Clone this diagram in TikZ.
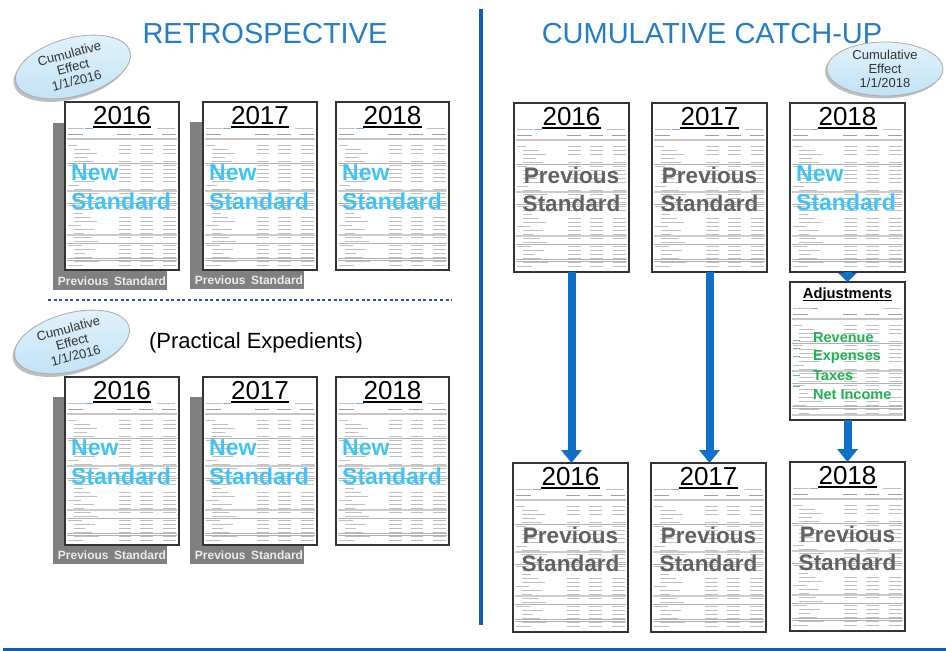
\documentclass[tikz,border=0pt]{standalone}
\usepackage{fontspec}
\setmainfont{Liberation Sans}
\usetikzlibrary{arrows.meta,shapes.geometric}

\definecolor{titleblue}{RGB}{35,125,200}
\definecolor{rulerblue}{RGB}{22,92,172}
\definecolor{arrowblue}{RGB}{15,112,200}
\definecolor{newblue}{RGB}{64,196,245}
\definecolor{prevgray}{RGB}{98,98,98}
\definecolor{adjgreen}{RGB}{30,178,80}
\definecolor{stripgray}{RGB}{128,128,128}
\definecolor{striptext}{RGB}{236,236,236}
\definecolor{effecttop}{RGB}{226,243,252}
\definecolor{effectbottom}{RGB}{192,226,246}

\tikzset{
  x=1pt, y=-1pt,
  sheet/.style={draw=black!80, line width=1.2pt, fill=white, anchor=north west,
    inner sep=0pt, outer sep=0pt},
  strip/.style={fill=stripgray, anchor=north west, inner sep=0pt, outer sep=0pt,
    minimum width=114, minimum height=167},
  striptxt/.style={text=striptext, inner sep=0pt, font=\fontsize{12}{13}\selectfont\bfseries},
  tinyrule/.style={draw=gray!50, line width=0.6pt},
  headrule/.style={draw=gray!75, line width=0.8pt},
  seprule/.style={draw=gray!60, line width=0.6pt},
  yearlbl/.style={anchor=base, inner sep=0pt, font=\fontsize{26}{28}\selectfont},
  yearrule/.style={draw=black, line width=2.6pt},
  newtxt/.style={anchor=west, inner sep=0pt, text=newblue, font=\fontsize{23}{25}\selectfont\bfseries},
  prevtxt/.style={inner sep=0pt, text=prevgray, font=\fontsize{22.5}{25}\selectfont\bfseries},
  greentxt/.style={anchor=west, inner sep=0pt, text=adjgreen, font=\fontsize{14.5}{16}\selectfont\bfseries},
  effect/.style={ellipse, top color=effecttop, bottom color=effectbottom, draw=gray!65, line width=0.8pt,
    minimum width=118, minimum height=58, inner sep=0pt, align=center,
    text=black!80, font=\fontsize{13}{14}\selectfont},
  effectshadow/.style={ellipse, fill=gray!50, minimum width=118, minimum height=58, inner sep=0pt},
  titletxt/.style={anchor=base, inner sep=0pt, text=titleblue, font=\fontsize{29}{31}\selectfont},
  bigarrow/.style={draw=arrowblue, line width=8pt, -{Triangle[width=20pt,length=13pt]}},
  shortarrow/.style={draw=arrowblue, line width=8pt, -{Triangle[width=18pt,length=9pt]}},
}

% faint rules standing for the rows of a financial statement
\newcommand{\sheetbody}[4]{% x, y, width, height
  \begin{scope}[shift={(#1,#2)}]
    \draw[tinyrule] (3,26) -- (19,26);
    \draw[tinyrule, draw=titleblue!60] (20,26) -- (28,26);
    \draw[tinyrule] ({#3-22},26) -- ({#3-4},26);
    \draw[headrule] (3,32) -- (18,32);
    \foreach \c in {0.46,0.65,0.85} \draw[headrule] ({\c*#3},32) -- ({(\c+0.12)*#3},32);
    \fill[gray!45] (2,36.3) rectangle ({#3-2},38.3);
    \pgfmathtruncatemacro{\nrows}{(#4-47)/4}
    \foreach \k in {0,...,\nrows}{
      \pgfmathsetmacro{\yy}{43+4*\k}
      \pgfmathsetmacro{\labx}{ifthenelse(mod(\k,5)==0,3,9)}
      \pgfmathsetmacro{\lablen}{9+mod(\k*7,17)}
      \draw[tinyrule] (\labx,\yy) -- ({\labx+\lablen},\yy);
      \pgfmathtruncatemacro{\gapflag}{mod(\k,7)==3}
      \ifnum\gapflag=0
        \foreach \c in {0.47,0.66,0.86} \draw[tinyrule] ({\c*#3},\yy) -- ({(\c+0.11)*#3},\yy);
      \fi
      \pgfmathtruncatemacro{\sepflag}{mod(\k,10)==4}
      \ifnum\sepflag=1 \draw[seprule] (2,\yy+2) -- ({#3-2},\yy+2); \fi
      \ifnum\k=11 \fill[gray!40] (2,\yy+1.2) rectangle ({#3-2},\yy+2.8); \fi
      \ifnum\k=22 \fill[gray!40] (2,\yy+1.2) rectangle ({#3-2},\yy+2.8); \fi
      \pgfmathtruncatemacro{\lastflag}{\k==\nrows-2}
      \ifnum\lastflag=1
        \draw[seprule] (2,\yy+1.5) -- ({#3-2},\yy+1.5);
        \draw[seprule] (2,\yy+3.5) -- ({#3-2},\yy+3.5);
      \fi
    }
  \end{scope}}

% one statement page with its year heading
\newcommand{\sheetpage}[6]{% name, x, y, width, height, year
  \node[sheet, minimum width=#4, minimum height=#5] (#1) at (#2,#3) {};
  \sheetbody{#2}{#3}{#4}{#5}
  \node[yearlbl] (#1-year) at ({#2+#4/2},{#3+22}) {#6};
  \draw[yearrule] ([yshift=-3pt]#1-year.base west) -- ([yshift=-3pt]#1-year.base east);}

\newcommand{\newstd}[3]{% name, x, y of the page
  \node[newtxt] (#1-new) at ({#2+6},{#3+71}) {New};
  \node[newtxt] (#1-std) at ({#2+6},{#3+99.5}) {Standard};}

\newcommand{\prevstd}[4]{% name, x, y, width of the page
  \node[prevtxt] (#1-prev) at ({#2+#4/2},{#3+72}) {Previous};
  \node[prevtxt] (#1-std) at ({#2+#4/2},{#3+100}) {Standard};}

\newcommand{\backstrip}[3]{% name, x, y
  \node[strip] (#1) at (#2,#3) {};
  \node[striptxt] (#1-txt) at ({#2+59},{#3+158}) {Previous\hspace{0.45em}Standard};}

\begin{document}
\begin{tikzpicture}
\useasboundingbox (0,0) rectangle (946,651);

% section titles
\node[titletxt] (ttl-retro) at (265,43.5) {RETROSPECTIVE};
\node[titletxt] (ttl-catch) at (712,43.5) {CUMULATIVE CATCH-UP};

% dividers
\coordinate (div-top) at (481,9);
\coordinate (div-bot) at (481,625);
\draw[rulerblue, line width=4pt] (div-top) -- (div-bot);
\coordinate (base-l) at (3,649.5);
\coordinate (base-r) at (946,649.5);
\draw[rulerblue, line width=2.5pt] (base-l) -- (base-r);
\coordinate (dot-l) at (48,300);
\coordinate (dot-r) at (452,300);
\draw[rulerblue, line width=2.6pt, dash pattern=on 3pt off 2.6pt] (dot-l) -- (dot-r);

% ---- retrospective, full ----
\node[effectshadow, rotate=15] (eff-a-sh) at (71,70) {};
\node[effect, rotate=15] (eff-a) at (73,67) {Cumulative\\Effect\\1/1/2016};

\backstrip{strip-a16}{53}{123}
\sheetpage{ra16}{65}{102}{114}{168}{2016}
\newstd{ra16}{65}{102}
\backstrip{strip-a17}{190}{122}
\sheetpage{ra17}{203}{102}{114}{168}{2017}
\newstd{ra17}{203}{102}
\sheetpage{ra18}{336}{102}{113}{168}{2018}
\newstd{ra18}{336}{102}

% ---- retrospective, practical expedients ----
\node[effectshadow, rotate=15] (eff-b-sh) at (70,345) {};
\node[effect, rotate=15] (eff-b) at (72,342) {Cumulative\\Effect\\1/1/2016};
\node[inner sep=0pt, font=\fontsize{22}{24}\selectfont] (practical) at (256,343) {(Practical Expedients)};

\backstrip{strip-b16}{53}{397}
\sheetpage{rb16}{65}{377}{114}{168}{2016}
\newstd{rb16}{65}{377}
\backstrip{strip-b17}{190}{397}
\sheetpage{rb17}{203}{377}{114}{168}{2017}
\newstd{rb17}{203}{377}
\sheetpage{rb18}{336}{377}{113}{168}{2018}
\newstd{rb18}{336}{377}

% ---- cumulative catch-up ----
\node[effectshadow, minimum width=116, minimum height=54] (eff-c-sh) at (883,71.5) {};
\node[effect, minimum width=116, minimum height=54] (eff-c) at (885,69) {Cumulative\\Effect\\1/1/2018};

\sheetpage{c16t}{514}{103}{115}{169}{2016}
\prevstd{c16t}{514}{103}{115}
\sheetpage{c17t}{652}{103}{115}{169}{2017}
\prevstd{c17t}{652}{103}{115}
\sheetpage{c18t}{790}{103}{115}{169}{2018}
\newstd{c18t}{790}{103}

% adjustments page
\node[sheet, minimum width=115, minimum height=138] (adj) at (790,282) {};
\sheetbody{790}{282}{115}{138}
\node[anchor=base, inner sep=0pt, font=\fontsize{14.7}{16}\selectfont\bfseries] (adj-title) at (847.5,298) {Adjustments};
\draw[line width=1.3pt] ([yshift=-2.5pt]adj-title.base west) -- ([yshift=-2.5pt]adj-title.base east);
\begin{scope}[adjgreen!70, line width=0.7pt]
  \draw (793,340) -- (800,340);
  \draw (793,348) -- (800,348);
  \draw (793,356) -- (800,356);
  \draw (793,375) -- (800,375);
  \draw (793,386) -- (800,386);
\end{scope}
\node[greentxt] (adj-rev) at (813,338) {Revenue};
\node[greentxt] (adj-exp) at (813,357) {Expenses};
\node[greentxt] (adj-tax) at (813,376) {Taxes};
\node[greentxt] (adj-net) at (813,394.5) {Net Income};

\sheetpage{c16b}{513}{463}{115}{169}{2016}
\prevstd{c16b}{513}{463}{115}
\sheetpage{c17b}{651}{463}{115}{169}{2017}
\prevstd{c17b}{651}{463}{115}
\sheetpage{c18b}{790}{462}{115}{169}{2018}
\prevstd{c18b}{790}{462}{115}

% carry-forward arrows
\draw[bigarrow] (c16t.south) -- (c16t.south |- c16b.north);
\draw[bigarrow] (c17t.south) -- (c17t.south |- c17b.north);
\draw[shortarrow] (c18t.south) -- (adj.north);
\draw[bigarrow] (adj.south) -- (c18b.north);
\end{tikzpicture}
\end{document}
